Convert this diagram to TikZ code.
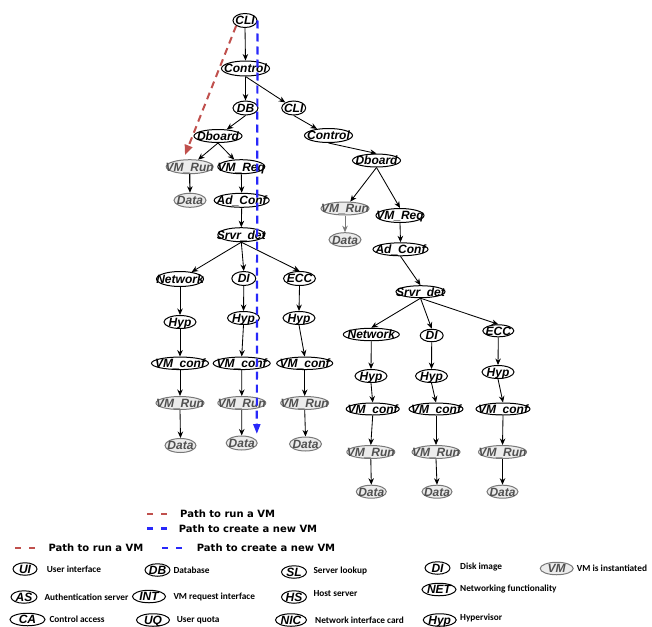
\documentclass[tikz,border=0pt]{standalone}
\usepackage{fontspec}
\setmainfont{Liberation Sans}
\newfontfamily\legendfont{DejaVu Sans}
\newfontfamily\keyfont{Carlito}
\usetikzlibrary{shapes.geometric,arrows.meta}

\definecolor{runred}{RGB}{192,80,77}
\definecolor{newblue}{RGB}{40,40,250}
\definecolor{vmfill}{RGB}{236,236,236}
\definecolor{vmline}{RGB}{120,120,120}
\definecolor{vmtext}{RGB}{80,80,80}

% label centred on the node, taking no room of its own
\newcommand{\nlabel}[1]{\makebox[0pt]{\raisebox{-0.36em}[0pt][0pt]{#1}}}

\tikzset{
  mod/.style={ellipse, draw, line width=1pt, inner sep=0pt,
    minimum width=#1, minimum height=14pt,
    font=\bfseries\itshape\fontsize{12}{13}\selectfont},
  mod/.default=32pt,
  inst/.style={mod=#1, fill=vmfill, draw=vmline, text=vmtext},
  inst/.default=48pt,
  link/.style={-{Stealth[length=6.5pt,width=5.5pt]}, line width=0.85pt},
  greylink/.style={link, draw=vmline},
  runpath/.style={runred, line width=2pt, dash pattern=on 7pt off 5pt,
    -{Triangle[length=10pt,width=8pt]}},
  newpath/.style={newblue, line width=2.2pt, dash pattern=on 8pt off 5pt,
    -{Triangle[length=10pt,width=7pt]}},
  pathtext/.style={anchor=west, inner sep=0pt,
    font=\legendfont\bfseries\fontsize{10}{12}\selectfont},
  keymod/.style={mod=#1, minimum height=12.5pt},
  keyinst/.style={inst=#1, minimum height=12.5pt},
  keytext/.style={anchor=west, inner sep=0pt,
    font=\keyfont\bfseries\fontsize{9.3}{11}\selectfont},
}

\begin{document}
\begin{tikzpicture}[x=1pt,y=-1pt]
\useasboundingbox (0,0) rectangle (652,626);

% ---------- first request tree ----------
\node[mod=24pt] (cliA) at (245,20.5) {\nlabel{CLI}};
\node[mod=48pt, minimum height=15pt] (ctlA) at (245.5,68.5) {\nlabel{Control}};
\node[mod=25pt] (dbA) at (245.5,108) {\nlabel{DB}};
\node[mod=48pt, minimum height=13pt] (dbdA) at (218,136) {\nlabel{Dboard}};
\node[inst=47pt] (runA) at (189.7,166.7) {\nlabel{VM\_Run}};
\node[mod=47pt] (reqA) at (241.3,166.7) {\nlabel{VM\_Req}};
\node[inst=32pt] (datA) at (190,200.3) {\nlabel{Data}};
\node[mod=55pt] (adcA) at (241.7,200.3) {\nlabel{Ad\_Conf}};
\node[mod=47pt] (srvA) at (241.3,234.7) {\nlabel{Srvr\_det}};

\node[mod=47pt, minimum height=15pt] (netA) at (180,279) {\nlabel{Network}};
\node[mod=24pt] (diA) at (243.8,278.5) {\nlabel{DI}};
\node[mod=32pt] (eccA) at (299.5,278.5) {\nlabel{ECC}};

\node[mod=32pt, minimum height=13pt] (hypA1) at (180,322) {\nlabel{Hyp}};
\node[mod=32pt, minimum height=13pt] (hypA2) at (243.5,318) {\nlabel{Hyp}};
\node[mod=32pt, minimum height=13pt] (hypA3) at (299,318) {\nlabel{Hyp}};

\node[mod=57pt, minimum height=12.5pt] (cnfA1) at (180,363.3) {\nlabel{VM\_conf}};
\node[mod=57pt, minimum height=12.5pt] (cnfA2) at (241.7,363.3) {\nlabel{VM\_conf}};
\node[mod=56pt, minimum height=12.5pt] (cnfA3) at (304.7,363.3) {\nlabel{VM\_conf}};

\node[inst=48pt, minimum height=13pt] (vmA1) at (180,403) {\nlabel{VM\_Run}};
\node[inst=48pt, minimum height=13pt] (vmA2) at (241.8,403) {\nlabel{VM\_Run}};
\node[inst=48pt, minimum height=13pt] (vmA3) at (304.7,403) {\nlabel{VM\_Run}};

\node[inst=31pt] (dtA1) at (180.5,445.5) {\nlabel{Data}};
\node[inst=31pt] (dtA2) at (241.7,443) {\nlabel{Data}};
\node[inst=32pt] (dtA3) at (305.5,444) {\nlabel{Data}};

% ---------- second request tree ----------
\node[mod=24pt] (cliB) at (293.7,108) {\nlabel{CLI}};
\node[mod=48pt] (ctlB) at (328.5,135.5) {\nlabel{Control}};
\node[mod=48pt, minimum height=13pt] (dbdB) at (376.5,160.5) {\nlabel{Dboard}};
\node[inst=48pt, minimum height=13pt] (runB) at (345,208.5) {\nlabel{VM\_Run}};
\node[mod=48pt] (reqB) at (400,215.5) {\nlabel{VM\_Req}};
\node[inst=32pt] (datB) at (345,239.7) {\nlabel{Data}};
\node[mod=55pt, minimum height=13pt] (adcB) at (400.5,249.3) {\nlabel{Ad\_Conf}};
\node[mod=49pt, minimum height=12pt] (srvB) at (420.5,291.7) {\nlabel{Srvr\_det}};

\node[mod=56pt, minimum height=12.5pt] (netB) at (371.3,334.5) {\nlabel{Network}};
\node[mod=23pt, minimum height=12.5pt] (diB) at (431.7,335.5) {\nlabel{DI}};
\node[mod=31pt, minimum height=12pt] (eccB) at (498.3,330.8) {\nlabel{ECC}};

\node[mod=32pt, minimum height=13pt] (hypB1) at (371,376) {\nlabel{Hyp}};
\node[mod=32pt, minimum height=13pt] (hypB2) at (431.5,376) {\nlabel{Hyp}};
\node[mod=32pt, minimum height=13pt] (hypB3) at (498,372) {\nlabel{Hyp}};

\node[mod=53pt, minimum height=12pt] (cnfB1) at (372.7,409) {\nlabel{VM\_conf}};
\node[mod=54pt, minimum height=12pt] (cnfB2) at (436,409) {\nlabel{VM\_conf}};
\node[mod=54pt, minimum height=12pt] (cnfB3) at (503,409) {\nlabel{VM\_conf}};

\node[inst=48pt, minimum height=13pt] (vmB1) at (370.8,452) {\nlabel{VM\_Run}};
\node[inst=48pt, minimum height=13pt] (vmB2) at (436,452) {\nlabel{VM\_Run}};
\node[inst=48pt, minimum height=13pt] (vmB3) at (502.5,452) {\nlabel{VM\_Run}};

\node[inst=30pt, minimum height=13pt] (dtB1) at (371.3,491.7) {\nlabel{Data}};
\node[inst=30pt, minimum height=13pt] (dtB2) at (437,491.7) {\nlabel{Data}};
\node[inst=31pt, minimum height=13pt] (dtB3) at (502.5,491.7) {\nlabel{Data}};

% ---------- connectors, first tree ----------
\draw[link] (cliA.south) -- (ctlA.north);
\draw[link] (ctlA.south) -- (dbA.north);
\draw[link] (ctlA.south) -- (cliB);
\draw[link] (dbA.south) -- (dbdA);
\draw[link] (dbdA.south) -- (runA);
\draw[link] (dbdA.south) -- (reqA);
\draw[link, line width=1.2pt] (runA.south) -- (datA.north);
\draw[link] (reqA.south) -- (adcA.north);
\draw[link] (adcA.south) -- (srvA.north);
\draw[link] (srvA.south) -- (netA);
\draw[link] (srvA.south) -- (diA.north);
\draw[link] (srvA.south) -- (eccA.north);
\foreach \c in {1,2,3}{
  \draw[link] (hypA\c.south) -- (cnfA\c.north);
  \draw[link] (cnfA\c.south) -- (vmA\c.north);
  \draw[link] (vmA\c.south) -- (dtA\c.north);
}
\draw[link] (netA.south) -- (hypA1.north);
\draw[link] (diA.south) -- (hypA2.north);
\draw[link] (eccA.south) -- (hypA3.north);

% ---------- connectors, second tree ----------
\draw[link] (cliB.south) -- (ctlB);
\draw[link] (ctlB.south) -- (dbdB.north);
\draw[link] (dbdB.south) -- (runB);
\draw[link] (dbdB.south) -- (reqB.north);
\draw[greylink] (runB.south) -- (datB.north);
\draw[link] (reqB.south) -- (adcB.north);
\draw[link] (adcB.south) -- (srvB.north);
\draw[link] (srvB.south) -- (netB.north);
\draw[link] (srvB.south) -- (diB.north);
\draw[link] (srvB.south) -- (eccB.north);
\foreach \c in {1,2,3}{
  \draw[link] (hypB\c.south) -- (cnfB\c.north);
  \draw[link] (cnfB\c.south) -- (vmB\c.north);
  \draw[link] (vmB\c.south) -- (dtB\c.north);
}
\draw[link] (netB.south) -- (hypB1.north);
\draw[link] (diB.south) -- (hypB2.north);
\draw[link] (eccB.south) -- (hypB3.north);

% ---------- highlighted paths ----------
\coordinate (runtip) at (185,155);
\coordinate (newtip) at (256.8,434);
\draw[runpath] (cliA.south west) -- (runtip);
\draw[newpath] (cliA.east) -- (newtip);

% ---------- path legend ----------
\draw[runred, line width=2.5pt, dash pattern=on 6pt off 8pt] (147,514) -- (167,514);
\node[pathtext] (lgRunA) at (180,514) {Path to run a VM};
\draw[newblue, line width=2.5pt, dash pattern=on 6pt off 8pt] (147,528.5) -- (167,528.5);
\node[pathtext] (lgNewA) at (178.7,528.5) {Path to create a new VM};
\draw[runred, line width=2.5pt, dash pattern=on 6pt off 8pt] (15,548) -- (36,548);
\node[pathtext] (lgRunB) at (48.3,548) {Path to run a VM};
\draw[newblue, line width=2.5pt, dash pattern=on 6pt off 8pt] (162,548) -- (183,548);
\node[pathtext] (lgNewB) at (196.7,548) {Path to create a new VM};

% ---------- abbreviation key ----------
\node[keymod=24pt] (kUI) at (25,569) {\nlabel{UI}};
\node[keytext] at (46.7,569.5) {User interface};
\node[keymod=26pt] (kAS) at (24,597) {\nlabel{AS}};
\node[keytext] at (44.3,597) {Authentication server};
\node[keymod=35pt] (kCA) at (27.5,619.5) {\nlabel{CA}};
\node[keytext] at (49.3,619.5) {Control access};

\node[keymod=25pt] (kDB) at (157.5,570) {\nlabel{DB}};
\node[keytext] at (173.3,570) {Database};
\node[keymod=33pt] (kINT) at (149,596.5) {\nlabel{INT}};
\node[keytext] at (173.3,596.5) {VM request interface};
\node[keymod=33pt] (kUQ) at (153,620) {\nlabel{UQ}};
\node[keytext] at (176.7,620) {User quota};

\node[keymod=25pt] (kSL) at (294,572) {\nlabel{SL}};
\node[keytext] at (313.3,571) {Server lookup};
\node[keymod=25pt] (kHS) at (294,597) {\nlabel{HS}};
\node[keytext] at (313.3,594) {Host server};
\node[keymod=31pt] (kNIC) at (291,620) {\nlabel{NIC}};
\node[keytext] at (315,620) {Network interface card};

\node[keymod=25pt] (kDI) at (437.5,568) {\nlabel{DI}};
\node[keytext] at (460,567) {Disk image};
\node[keymod=34pt] (kNET) at (439,589.5) {\nlabel{NET}};
\node[keytext] at (460,588.7) {Networking functionality};
\node[keymod=33pt] (kHyp) at (439.7,620) {\nlabel{Hyp}};
\node[keytext] at (460,617.7) {Hypervisor};

\node[keyinst=33pt] (kVM) at (556.7,568.5) {\nlabel{VM}};
\node[keytext] at (576.7,568) {VM is instantiated};
\end{tikzpicture}
\end{document}
